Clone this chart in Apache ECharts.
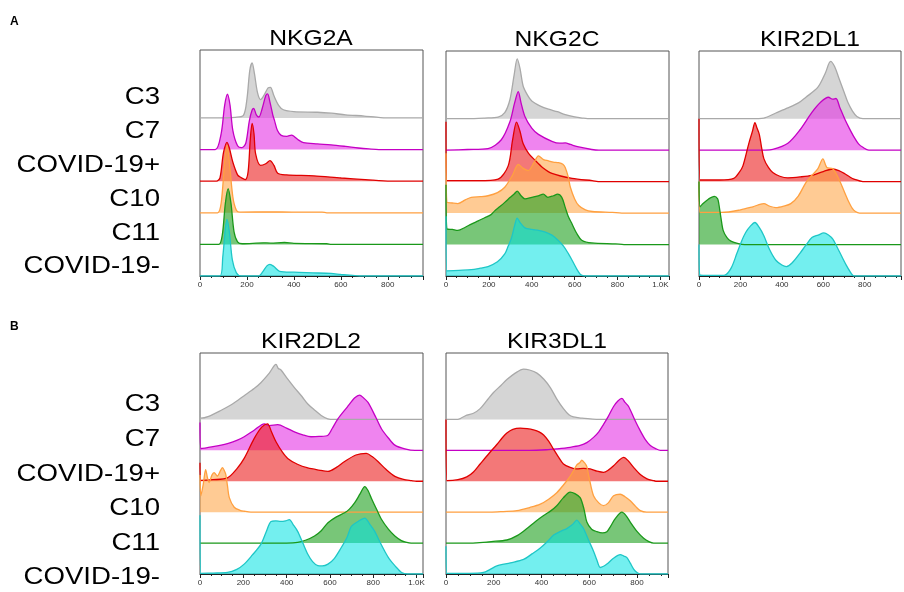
<!DOCTYPE html>
<html><head><meta charset="utf-8">
<script src="https://cdn.jsdelivr.net/npm/echarts@6/dist/echarts.min.js"></script>
<style>html,body{margin:0;padding:0;background:#fff}#c{width:904px;height:592px}</style>
</head><body><div id="c"></div>
<script>
// ---------- DATA ----------
const rowLabels = ['C3', 'C7', 'COVID-19+', 'C10', 'C11', 'COVID-19-'];
const panelTitles = ['NKG2A', 'NKG2C', 'KIR2DL1', 'KIR2DL2', 'KIR3DL1'];
const panelLetters = ['A', 'B'];
const xTickLabels = ['0', '200', '400', '600', '800', '1.0K'];
const axisMax = [950, 1040, 975, 1030, 930];

// [fluorescence, relative count] per group
const NKG2A_C3 = [[0,0],[70,0],[150,0.02],[185,0.08],[200,0.6],[212,1.5],[222,1.74],[232,1.4],[245,0.8],[258,0.58],[275,0.75],[290,0.95],[300,0.97],[315,0.7],[335,0.4],[355,0.26],[400,0.2],[500,0.18],[560,0.15],[620,0.1],[700,0.06],[760,0.02],[790,0],[950,0]];
const NKG2A_C7 = [[0,0],[65,0],[90,0.5],[105,1.4],[117,1.75],[128,1.4],[140,0.6],[160,0.12],[178,0.06],[195,0.2],[210,0.9],[222,1.25],[229,1.3],[240,1.1],[251,1.03],[265,1.3],[280,1.7],[288,1.76],[298,1.5],[310,1.1],[317,0.93],[330,0.6],[346,0.45],[370,0.42],[390,0.46],[400,0.42],[420,0.3],[441,0.22],[500,0.18],[558,0.15],[620,0.1],[675,0.05],[720,0.02],[762,0],[950,0]];
const NKG2A_COVp = [[0,0],[70,0],[85,0.1],[100,0.9],[115,1.23],[125,1.05],[140,0.6],[160,0.2],[171,0.13],[193,0.05],[205,0.3],[214,1.3],[222,1.83],[230,1.5],[237,0.86],[258,0.5],[280,0.55],[298,0.65],[315,0.5],[331,0.25],[368,0.2],[485,0.17],[602,0.1],[704,0.05],[813,0],[950,0]];
const NKG2A_C10 = [[0,0],[75,0],[90,0.3],[105,1.6],[115,2.14],[125,1.6],[140,0.5],[155,0.08],[170,0.02],[300,0.03],[400,0.02],[520,0.02],[540,0],[950,0]];
const NKG2A_C11 = [[0,0],[80,0],[95,0.3],[108,1.3],[120,1.76],[132,1.3],[145,0.4],[160,0.08],[180,0.02],[270,0.05],[300,0.04],[360,0.06],[400,0.03],[540,0.02],[560,0],[950,0]];
const NKG2A_COVn = [[0,0],[85,0],[97,0.6],[108,1.5],[115,1.79],[125,1.4],[138,0.5],[155,0.1],[175,0],[250,0],[266,0.12],[285,0.32],[298,0.37],[315,0.3],[339,0.15],[400,0.12],[480,0.1],[558,0.08],[600,0.05],[650,0.02],[680,0],[950,0]];

const NKG2C_C3 = [[0,0],[100,0],[180,0.02],[243,0.05],[274,0.19],[298,0.6],[318,1.4],[332,1.9],[345,1.6],[360,1.03],[380,0.75],[400,0.56],[440,0.4],[478,0.3],[520,0.22],[556,0.13],[600,0.06],[635,0.02],[660,0],[1040,0]];
const NKG2C_C7 = [[0,0],[100,0.02],[196,0.05],[258,0.33],[298,0.9],[320,1.5],[337,1.86],[350,1.5],[368,1.07],[400,0.7],[431,0.5],[494,0.28],[530,0.22],[556,0.23],[580,0.18],[619,0.1],[680,0.02],[713,0],[1040,0]];
const NKG2C_COVp = [[0,1.9],[4,0.03],[150,0.03],[243,0.08],[290,0.5],[310,1.3],[329,1.89],[345,1.6],[360,1.2],[385,0.9],[415,0.68],[450,0.45],[494,0.26],[588,0.1],[682,0.03],[720,0],[1040,0]];
const NKG2C_C10 = [[0,1.9],[4,0.35],[30,0.32],[55,0.3],[90,0.42],[118,0.5],[160,0.52],[196,0.55],[240,0.65],[274,0.82],[310,1.2],[337,1.55],[360,1.42],[384,1.35],[410,1.6],[431,1.82],[455,1.7],[478,1.66],[500,1.62],[525,1.6],[545,1.55],[556,1.45],[570,1.15],[580,0.82],[600,0.45],[619,0.24],[650,0.1],[682,0.05],[776,0.02],[820,0],[1040,0]];
const NKG2C_C11 = [[0,1.9],[4,0.5],[30,0.48],[55,0.45],[90,0.55],[118,0.65],[150,0.75],[180,0.85],[210,0.95],[227,1.07],[250,1.2],[274,1.34],[300,1.5],[320,1.62],[332,1.7],[350,1.55],[368,1.45],[400,1.5],[430,1.55],[454,1.6],[475,1.5],[501,1.55],[520,1.6],[540,1.5],[556,1.18],[570,0.9],[588,0.65],[610,0.35],[635,0.13],[680,0.05],[791,0.02],[830,0],[1040,0]];
const NKG2C_COVn = [[0,1.9],[4,0.16],[60,0.18],[118,0.2],[160,0.25],[196,0.3],[240,0.45],[274,0.7],[290,0.95],[305,1.2],[320,1.6],[332,1.84],[345,1.7],[368,1.53],[400,1.48],[431,1.45],[460,1.4],[494,1.3],[520,1.15],[548,0.95],[570,0.72],[588,0.5],[610,0.22],[627,0.05],[650,0],[1040,0]];

const KIR2DL1_C3 = [[0,0],[250,0],[313,0.02],[371,0.18],[429,0.34],[480,0.5],[516,0.68],[574,1.0],[610,1.45],[635,1.82],[655,1.65],[675,1.29],[700,0.85],[719,0.51],[740,0.25],[762,0.07],[791,0],[975,0]];
const KIR2DL1_C7 = [[0,0],[320,0],[356,0.02],[429,0.22],[487,0.64],[545,1.2],[588,1.53],[625,1.68],[645,1.62],[661,1.64],[680,1.35],[704,0.98],[725,0.7],[748,0.42],[770,0.2],[791,0.09],[820,0],[975,0]];
const KIR2DL1_COVp = [[0,2.0],[5,0.05],[100,0.05],[168,0.1],[195,0.3],[212,0.5],[240,1.2],[258,1.6],[270,1.87],[280,1.7],[291,1.5],[303,1.05],[313,0.73],[335,0.45],[356,0.29],[390,0.17],[429,0.12],[490,0.15],[545,0.2],[600,0.32],[646,0.4],[675,0.35],[704,0.25],[730,0.14],[748,0.08],[791,0],[975,0]];
const KIR2DL1_C10 = [[0,1.0],[5,0.02],[110,0.02],[200,0.1],[260,0.2],[313,0.3],[340,0.22],[371,0.17],[410,0.22],[443,0.3],[480,0.55],[516,0.97],[545,1.2],[574,1.41],[598,1.72],[617,1.45],[646,1.41],[675,1.08],[700,0.7],[719,0.41],[740,0.15],[755,0.05],[775,0],[975,0]];
const KIR2DL1_C11 = [[0,2.0],[5,1.2],[16,1.28],[45,1.44],[74,1.53],[90,1.45],[96,1.28],[106,0.85],[117,0.44],[135,0.22],[154,0.11],[190,0.03],[220,0],[975,0]];
const KIR2DL1_COVn = [[0,1.0],[5,0.03],[90,0.02],[125,0.03],[155,0.25],[183,0.72],[205,1.1],[226,1.39],[250,1.6],[270,1.7],[290,1.55],[313,1.28],[340,0.85],[371,0.5],[400,0.35],[422,0.3],[450,0.42],[487,0.72],[516,0.98],[545,1.22],[575,1.3],[603,1.37],[625,1.3],[646,1.17],[668,0.9],[690,0.61],[712,0.33],[733,0.1],[748,0],[975,0]];

const KIR2DL2_C3 = [[0,0.25],[4,0.04],[40,0.1],[96,0.29],[150,0.5],[204,0.77],[250,1.0],[281,1.19],[320,1.5],[351,1.78],[362,1.65],[374,1.6],[400,1.35],[436,1.03],[470,0.75],[498,0.5],[530,0.3],[560,0.13],[590,0.02],[621,0],[1030,0]];
const KIR2DL2_C7 = [[0,0.9],[4,0.06],[60,0.12],[127,0.22],[170,0.32],[204,0.44],[250,0.65],[297,0.86],[320,0.8],[359,0.83],[400,0.72],[436,0.6],[475,0.5],[513,0.44],[550,0.45],[591,0.49],[610,0.7],[637,1.02],[680,1.4],[715,1.7],[737,1.79],[755,1.7],[776,1.55],[810,1.1],[838,0.7],[870,0.4],[900,0.17],[946,0.05],[993,0],[1030,0]];
const KIR2DL2_COVp = [[0,0.6],[4,0.03],[60,0.05],[127,0.11],[170,0.4],[204,0.74],[250,1.38],[285,1.75],[312,1.86],[330,1.6],[351,1.28],[380,0.95],[405,0.74],[450,0.55],[498,0.43],[550,0.36],[591,0.32],[630,0.45],[668,0.64],[720,0.85],[768,0.9],[795,0.8],[822,0.64],[860,0.38],[900,0.16],[940,0.06],[977,0.02],[1000,0],[1030,0]];
const KIR2DL2_C10 = [[0,1.2],[4,0.53],[15,0.9],[26,1.38],[35,1.1],[42,0.96],[55,1.2],[65,1.28],[80,1.17],[95,1.35],[104,1.44],[112,1.35],[119,1.22],[127,0.85],[135,0.48],[158,0.16],[185,0.06],[204,0.03],[235,0],[1030,0]];
const KIR2DL2_C11 = [[0,0],[400,0],[451,0.02],[490,0.1],[529,0.23],[560,0.4],[591,0.66],[630,0.85],[668,0.98],[690,1.1],[714,1.3],[740,1.6],[761,1.83],[776,1.7],[791,1.46],[815,1.1],[838,0.77],[870,0.45],[900,0.23],[930,0.08],[946,0.04],[975,0],[1030,0]];
const KIR2DL2_COVn = [[0,1.9],[4,0.02],[60,0.03],[127,0.05],[170,0.15],[204,0.32],[240,0.6],[281,0.96],[305,1.35],[328,1.7],[350,1.72],[374,1.7],[395,1.72],[413,1.76],[430,1.6],[451,1.38],[475,1.0],[498,0.64],[520,0.4],[544,0.27],[565,0.26],[591,0.32],[620,0.5],[652,0.85],[680,1.2],[699,1.54],[730,1.7],[761,1.81],[785,1.6],[807,1.38],[830,1.05],[853,0.74],[875,0.48],[900,0.27],[931,0.05],[960,0],[1030,0]];

const KIR3DL1_C3 = [[0,0],[40,0],[60,0.03],[87,0.14],[115,0.2],[143,0.35],[170,0.6],[199,0.87],[230,1.1],[255,1.29],[290,1.5],[325,1.63],[350,1.6],[381,1.5],[410,1.3],[437,1.03],[465,0.65],[492,0.35],[515,0.15],[534,0.08],[570,0.04],[604,0.02],[640,0],[930,0]];
const KIR3DL1_C7 = [[0,0],[350,0],[420,0.02],[464,0.05],[520,0.1],[562,0.16],[590,0.25],[618,0.42],[640,0.6],[660,0.84],[680,1.1],[702,1.42],[720,1.6],[737,1.68],[750,1.55],[765,1.42],[790,1.0],[814,0.63],[835,0.35],[856,0.16],[880,0.05],[898,0],[930,0]];
const KIR3DL1_COVp = [[0,2.0],[4,0.02],[50,0.05],[87,0.14],[115,0.3],[143,0.56],[180,0.9],[213,1.19],[235,1.4],[255,1.56],[280,1.68],[311,1.72],[340,1.7],[367,1.66],[390,1.6],[409,1.5],[430,1.3],[451,1.03],[470,0.8],[492,0.56],[520,0.45],[548,0.4],[576,0.42],[604,0.4],[632,0.33],[660,0.29],[680,0.36],[702,0.5],[725,0.68],[744,0.77],[765,0.65],[786,0.45],[814,0.22],[842,0.08],[870,0.02],[884,0],[930,0]];
const KIR3DL1_C10 = [[0,0],[185,0],[240,0.02],[297,0.05],[350,0.15],[395,0.26],[430,0.42],[464,0.63],[492,0.88],[520,1.16],[535,1.35],[548,1.53],[560,1.6],[569,1.68],[580,1.6],[590,1.47],[600,1.1],[618,0.53],[640,0.3],[660,0.21],[680,0.3],[702,0.53],[730,0.58],[750,0.5],[772,0.37],[795,0.18],[814,0.05],[840,0],[930,0]];
const KIR3DL1_C11 = [[0,0],[100,0],[129,0.01],[190,0.05],[255,0.1],[300,0.25],[339,0.47],[375,0.7],[409,0.89],[440,1.05],[464,1.21],[492,1.47],[520,1.65],[540,1.6],[562,1.47],[578,1.1],[590,0.68],[610,0.45],[632,0.37],[655,0.33],[674,0.37],[690,0.55],[709,0.79],[737,1.0],[755,0.88],[772,0.68],[800,0.38],[828,0.16],[850,0.05],[870,0],[930,0]];
const KIR3DL1_COVn = [[0,0.9],[4,0.02],[100,0.02],[157,0.05],[185,0.15],[213,0.26],[270,0.36],[325,0.47],[360,0.65],[395,0.84],[425,1.05],[451,1.26],[480,1.38],[506,1.47],[530,1.6],[548,1.74],[562,1.62],[576,1.47],[597,1.1],[618,0.74],[632,0.45],[646,0.21],[660,0.25],[674,0.32],[700,0.5],[730,0.63],[745,0.58],[758,0.53],[772,0.35],[786,0.16],[800,0.05],[814,0],[930,0]];

const panelData = [
  [NKG2A_C3, NKG2A_C7, NKG2A_COVp, NKG2A_C10, NKG2A_C11, NKG2A_COVn],
  [NKG2C_C3, NKG2C_C7, NKG2C_COVp, NKG2C_C10, NKG2C_C11, NKG2C_COVn],
  [KIR2DL1_C3, KIR2DL1_C7, KIR2DL1_COVp, KIR2DL1_C10, KIR2DL1_C11, KIR2DL1_COVn],
  [KIR2DL2_C3, KIR2DL2_C7, KIR2DL2_COVp, KIR2DL2_C10, KIR2DL2_C11, KIR2DL2_COVn],
  [KIR3DL1_C3, KIR3DL1_C7, KIR3DL1_COVp, KIR3DL1_C10, KIR3DL1_C11, KIR3DL1_COVn]
];

// ---------- STYLE / LAYOUT ----------
const lineColors = ['#a9a9a9', '#c400c4', '#e00000', '#ffa040', '#1a981a', '#1ec6c6'];
const fillColors = ['rgba(185,185,185,0.6)', 'rgba(228,50,228,0.6)', 'rgba(235,30,30,0.6)', 'rgba(255,160,60,0.55)', 'rgba(30,160,30,0.6)', 'rgba(0,225,225,0.55)'];
const grids = [
  {left: 200, top: 50, width: 223, height: 226},
  {left: 446, top: 51, width: 223, height: 225},
  {left: 699, top: 51, width: 224, height: 225},
  {left: 200, top: 353, width: 223, height: 221},
  {left: 446, top: 353, width: 222, height: 221}
];
const YMAX = 7.15;
const FONT = '"Liberation Sans", Arial, Helvetica, sans-serif';

const option = {
  animation: false,
  backgroundColor: '#fff',
  grid: grids.map(g => Object.assign({show: true, borderColor: '#555', borderWidth: 1, containLabel: false}, g)),
  xAxis: grids.map((g, p) => ({
    type: 'value', gridIndex: p, min: 0, max: axisMax[p], interval: 200,
    axisLine: {show: true, onZero: false, lineStyle: {color: '#222', width: 1}},
    axisTick: {show: true, length: 4, lineStyle: {color: '#222'}},
    minorTick: {show: true, splitNumber: 4, length: 2, lineStyle: {color: '#222'}},
    splitLine: {show: false}, minorSplitLine: {show: false},
    axisLabel: {fontSize: 8, color: '#333', margin: 5, fontFamily: FONT,
      formatter: v => (v % 200 === 0 && v / 200 < xTickLabels.length) ? xTickLabels[v / 200] : ''}
  })),
  yAxis: grids.map((g, p) => ({type: 'value', gridIndex: p, min: 0, max: YMAX, show: false})),
  series: [],
  graphic: []
};

panelData.forEach((rows, p) => {
  rows.forEach((arr, r) => {
    const base = 5 - r;
    option.series.push({
      type: 'line', name: panelTitles[p] + ' ' + rowLabels[r],
      xAxisIndex: p, yAxisIndex: p,
      data: arr.map(([x, h]) => [x, base + h]),
      smooth: 0.3, symbol: 'none',
      lineStyle: {color: lineColors[r], width: 1.3},
      areaStyle: {color: fillColors[r], origin: base, opacity: 1}
    });
  });
  const g = grids[p];
  option.graphic.push({
    type: 'text', x: g.left + 111, y: g.top - 11, scaleX: 1.12,
    style: {text: panelTitles[p], font: '22px ' + FONT, fill: '#000', align: 'center', verticalAlign: 'middle'}
  });
});

const rowLabelY = [[98, 33.8], [405, 34.6]];
rowLabelY.forEach(([y0, step], b) => {
  rowLabels.forEach((lab, r) => {
    option.graphic.push({
      type: 'text', x: 160, y: y0 + step * r, scaleX: 1.2,
      style: {text: lab, font: '23px ' + FONT, fill: '#000', align: 'right', verticalAlign: 'middle'}
    });
  });
  option.graphic.push({
    type: 'text', x: 10, y: b === 0 ? 22 : 327,
    style: {text: panelLetters[b], font: 'bold 12px ' + FONT, fill: '#000', align: 'left', verticalAlign: 'middle'}
  });
});

const chart = echarts.init(document.getElementById('c'), null, {renderer: 'canvas'});
chart.setOption(option);
</script>
</body></html>
